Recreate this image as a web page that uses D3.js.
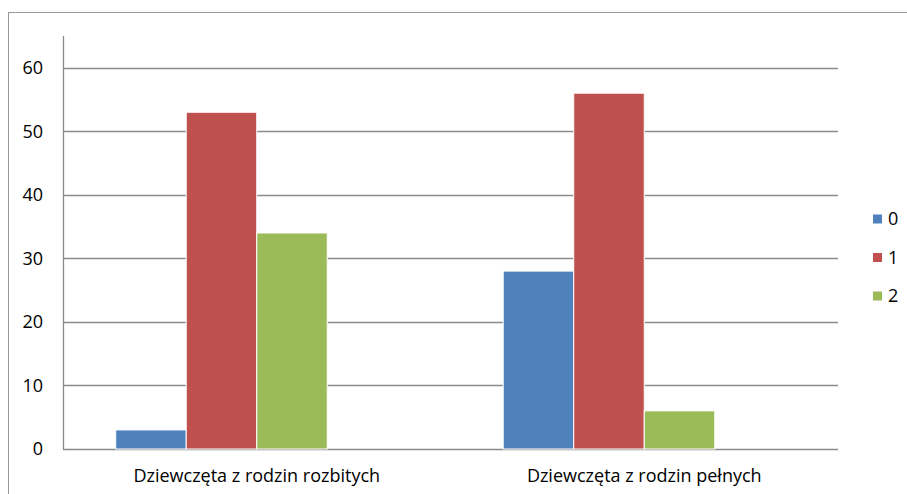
<!DOCTYPE html>
<html>
<head>
<meta charset="utf-8">
<script src="https://cdn.jsdelivr.net/npm/d3@7"></script>
<style>
  html, body { margin: 0; padding: 0; background: #fff; }
  svg { display: block; }
  text { font-family: "Open Sans", Lato, "Liberation Sans", sans-serif; fill: #000; }
</style>
</head>
<body>
<svg id="chart" width="907" height="494"></svg>
<script>
// ---- data ----
const categories = ["Dziewczęta z rodzin rozbitych", "Dziewczęta z rodzin pełnych"];
const seriesNames = ["0", "1", "2"];
const seriesColors = ["#4F81BD", "#C0504D", "#9BBB59"];
const values0 = [3, 28];
const values1 = [53, 56];
const values2 = [34, 6];
const yTicks = [0, 10, 20, 30, 40, 50, 60];
// the original chart reserves a fourth (empty) bar slot in every group
const slots = ["0", "1", "2", "_empty"];

const seriesValues = [values0, values1, values2];

const svg = d3.select("#chart");

// outer chart frame
svg.append("rect")
  .attr("x", 8.5).attr("y", 12.5)
  .attr("width", 1000).attr("height", 1000)
  .attr("fill", "none").attr("stroke", "#9a9a9a").attr("stroke-width", 1);

const pLeft = 63, pRight = 838, pTop = 36, pBottom = 449;

const y = d3.scaleLinear().domain([0, 65]).range([pBottom, pTop]);
const x0 = d3.scaleBand().domain(categories).range([pLeft, pRight])
  .paddingInner(0.272).paddingOuter(0.136);
const x1 = d3.scaleBand().domain(slots).range([0, x0.bandwidth()]);

// gridlines
svg.append("g").selectAll("line").data(yTicks).join("line")
  .attr("x1", pLeft).attr("x2", pRight)
  .attr("y1", d => Math.round(y(d)) + 0.5).attr("y2", d => Math.round(y(d)) + 0.5)
  .attr("stroke", "#8a8a8a").attr("stroke-width", 1.3);

// y axis line
svg.append("line")
  .attr("x1", pLeft + 0.5).attr("x2", pLeft + 0.5)
  .attr("y1", y(65)).attr("y2", Math.round(y(0)) + 1)
  .attr("stroke", "#8a8a8a").attr("stroke-width", 1.3);

// y tick labels
svg.append("g").selectAll("text").data(yTicks).join("text")
  .attr("x", 43).attr("y", d => y(d))
  .attr("dy", "0.35em")
  .attr("text-anchor", "end")
  .attr("font-size", 18)
  .text(d => d);

// bars
const groups = svg.append("g").selectAll("g").data(categories).join("g")
  .attr("transform", d => `translate(${x0(d)},0)`);

groups.selectAll("rect")
  .data((c, ci) => seriesNames.map((s, si) => ({ s, si, v: seriesValues[si][ci] })))
  .join("rect")
  .attr("x", d => x1(d.s))
  .attr("width", x1.bandwidth())
  .attr("y", d => y(d.v))
  .attr("height", d => y(0) - y(d.v))
  .attr("fill", d => seriesColors[d.si])
  .attr("stroke", "#ffffff").attr("stroke-width", 1);

// category labels
svg.append("g").selectAll("text").data(categories).join("text")
  .attr("x", d => x0(d) + x0.bandwidth() / 2)
  .attr("y", 476)
  .attr("dy", "0.35em")
  .attr("text-anchor", "middle")
  .attr("font-size", 18)
  .text(d => d);

// legend
const legend = svg.append("g").selectAll("g").data(seriesNames).join("g")
  .attr("transform", (d, i) => `translate(873, ${219 + i * 38.5})`);
legend.append("rect")
  .attr("x", 0).attr("y", -4.5).attr("width", 9).attr("height", 9)
  .attr("fill", (d, i) => seriesColors[i]);
legend.append("text")
  .attr("x", 15).attr("y", 0).attr("dy", "0.35em")
  .attr("font-size", 18)
  .text(d => d);
</script>
</body>
</html>
